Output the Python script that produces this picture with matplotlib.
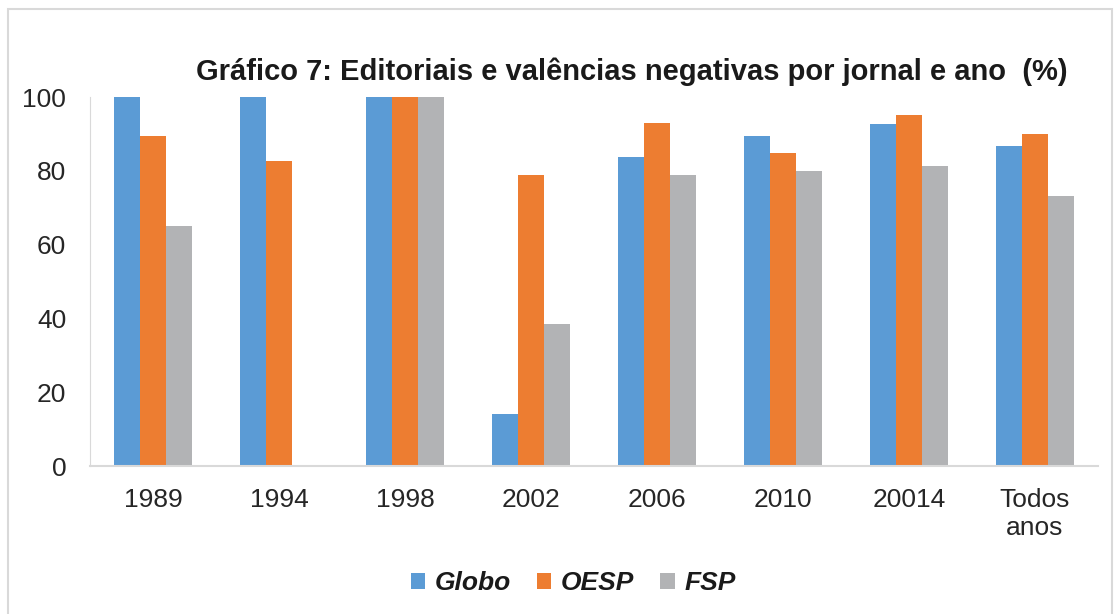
import numpy as np
import matplotlib
matplotlib.use('Agg')
import matplotlib.pyplot as plt
from matplotlib.patches import Rectangle

plt.rcParams['font.family'] = ['Liberation Sans', 'DejaVu Sans']

categories = ['1989', '1994', '1998', '2002', '2006', '2010', '20014', 'Todos\nanos']
globo = [100, 100, 100, 14.2, 83.8, 89.5, 92.8, 86.8]
oesp = [89.3, 82.6, 100, 78.8, 93.0, 84.9, 95.0, 90.1]
fsp = [65.1, 0, 100, 38.4, 78.9, 80.0, 81.4, 73.2]

series = [('Globo', globo, '#5b9bd5'), ('OESP', oesp, '#ed7d31'), ('FSP', fsp, '#b2b3b5')]

fig = plt.figure(figsize=(11.15, 6.14), dpi=100)
fig.patches.append(Rectangle((0.007, -0.01), 0.99, 0.995, transform=fig.transFigure,
                             fill=False, edgecolor='#d9d9d9', linewidth=1.5))
ax = fig.add_axes([0.0807, 0.241, 0.904, 0.601])

x = np.arange(len(categories))
w = 0.206
for i, (name, vals, color) in enumerate(series):
    ax.bar(x + (i - 1) * w, vals, width=w, color=color, label=name)

ax.set_xlim(-0.5, len(categories) - 0.5)
ax.set_ylim(0, 100)
ax.set_yticks(range(0, 101, 20))
ax.set_xticks(x)
ax.set_xticklabels(categories, fontsize=19, color='#262626', linespacing=1.2)
ax.tick_params(axis='y', labelsize=19, labelcolor='#262626', length=0, pad=17)
ax.tick_params(axis='x', length=0, pad=16)
for s in ['top', 'right']:
    ax.spines[s].set_visible(False)
ax.spines['left'].set_color('#d9d9d9')
ax.spines['bottom'].set_color('#d9d9d9')
ax.spines['bottom'].set_linewidth(1.5)

fig.text(0.567, 0.883, 'Gráfico 7: Editoriais e valências negativas por jornal e ano  (%)',
         ha='center', va='center', fontsize=21, fontweight='bold', color='#1a1a1a')

leg = fig.legend(loc='center', bbox_to_anchor=(0.514, 0.05), ncol=3, frameon=False,
                 prop={'size': 19, 'weight': 'bold', 'style': 'italic'},
                 handlelength=0.55, handleheight=0.55, handletextpad=0.35, columnspacing=1.0)
for t in leg.get_texts():
    t.set_color('#1a1a1a')

fig.savefig('out.png', dpi=100)
